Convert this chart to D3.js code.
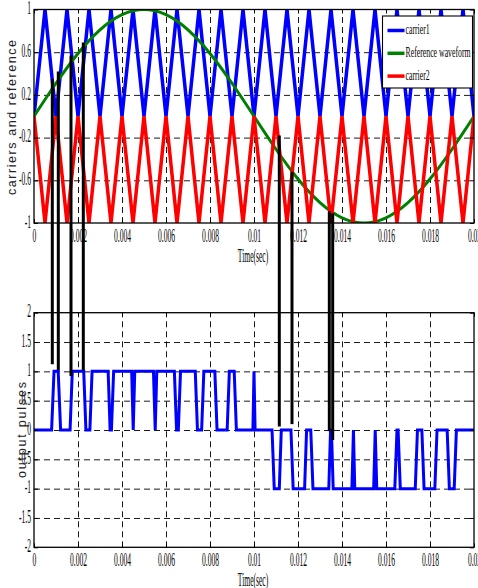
<!DOCTYPE html>
<html lang="en">
<head>
<meta charset="UTF-8">
<title>chart</title>
<script src="https://d3js.org/d3.v7.min.js"></script>
<style>body{margin:0;background:#fff}</style>
</head>
<body>
<svg width="478" height="588"></svg>
<script>
// all times in ms
const carrierT = [0,0.5,1,1.5,2,2.5,3,3.5,4,4.5,5,5.5,6,6.5,7,7.5,8,8.5,9,9.5,10,
                  10.5,11,11.5,12,12.5,13,13.5,14,14.5,15,15.5,16,16.5,17,17.5,18,18.5,19,19.5,20];
const carrier1 = [0,1,0,1,0,1,0,1,0,1,0,1,0,1,0,1,0,1,0,1,0,1,0,1,0,1,0,1,0,1,0,1,0,1,0,1,0,1,0,1,0];
const carrier2 = [0,-1,0,-1,0,-1,0,-1,0,-1,0,-1,0,-1,0,-1,0,-1,0,-1,0,-1,0,-1,0,-1,0,-1,0,-1,0,-1,0,-1,0,-1,0,-1,0,-1,0];
const refT = [0,1,2,3,4,5,6,7,8,9,10,11,12,13,14,15,16,17,18,19,20];
const refV = [0,0.309,0.588,0.809,0.951,1,0.951,0.809,0.588,0.309,0,
              -0.309,-0.588,-0.809,-0.951,-1,-0.951,-0.809,-0.588,-0.309,0];

const pulseT = [0, 0.80,0.91, 1.10,1.21, 1.64,1.74, 2.26,2.36, 2.54,2.64, 3.37,3.46, 3.52,3.62,
  4.44,4.51,4.58, 5.43,5.51,5.58, 6.38,6.48, 6.56,6.66, 7.33,7.43, 7.62,7.72, 8.22,8.32,
  8.78,8.88, 9.10,9.20, 9.95,10.0,10.05, 10.82,10.92, 11.15,11.24, 11.68,11.78, 12.30,12.39,
  12.58,12.68, 13.40,13.48, 13.52,13.60, 14.45,14.52,14.58, 15.44,15.51,15.58, 16.40,16.50,
  16.55,16.65, 17.33,17.43, 17.63,17.73, 18.22,18.32, 18.78,18.88, 19.10,19.20, 20];
const pulseV = [0, 0,1, 1,0, 0,1, 1,0, 0,1, 1,0, 0,1,
  1,0,1, 1,0,1, 1,0, 0,1, 1,0, 0,1, 1,0,
  0,1, 1,0, 0,1,0, 0,-1, -1,0, 0,-1, -1,0,
  0,-1, -1,0, 0,-1, -1,0,-1, -1,0,-1, -1,0,
  0,-1, -1,0, 0,-1, -1,0, 0,-1, -1,0, 0];

// black marker lines joining crossings to the pulses
const markT = [0.832,1.105,1.682,2.241,11.15,11.727,13.423,13.577];
const markTop = [0.35,0.42,0.57,0.69,-0.18,-0.52,-0.89,-0.91];
const markBot = [1.12,1.02,0.92,1.02,0.06,0.10,-0.02,-0.17];

const xTicks = [0,0.002,0.004,0.006,0.008,0.01,0.012,0.014,0.016,0.018,0.02];
const xTickLabels = ["0","0.002","0.004","0.006","0.008","0.01","0.012","0.014","0.016","0.018","0.02"];
const yTopTicks = [-1,-0.6,-0.2,0.2,0.6,1];
const yTopLabels = ["-1","-0.6","-0.2","0.2","0.6","1"];
const yBotTicks = [-2,-1.5,-1,-0.5,0,0.5,1,1.5,2];
const yBotLabels = ["-2","-1.5","-1","-0.5","0","0.5","1","1.5","2"];
const legendNames = ["carrier1","Reference waveform","carrier2"];
const legendColors = ["#0000ff","#008000","#ff0000"];

const svg = d3.select("svg");
const x = d3.scaleLinear().domain([0, 0.02]).range([34, 474]);
const yTop = d3.scaleLinear().domain([-1, 1]).range([223, 9.5]);
const yBot = d3.scaleLinear().domain([-2, 2]).range([547.3, 312.7]);
const SX = 0.42; // squeeze of the serif labels
const serif = "'Liberation Serif','Times New Roman',serif";

function axes(y, yTicks, yLabels, id) {
  const [yb, yt] = y.range();
  const h = yb - yt, w = x(0.02) - x(0);

  svg.append("clipPath").attr("id", id).append("rect")
    .attr("x", x(0)).attr("y", yt).attr("width", w).attr("height", h);

  // dashed grid
  svg.append("g").attr("transform", `translate(0,${yb})`)
    .call(d3.axisBottom(x).tickValues(xTicks.slice(1, -1)).tickSize(-h).tickFormat(""))
    .call(g => g.select(".domain").remove())
    .selectAll("line").attr("stroke", "#000").attr("stroke-width", 0.9).attr("stroke-dasharray", "6,4");
  svg.append("g").attr("transform", `translate(${x(0)},0)`)
    .call(d3.axisLeft(y).tickValues(yTicks.slice(1, -1)).tickSize(-w).tickFormat(""))
    .call(g => g.select(".domain").remove())
    .selectAll("line").attr("stroke", "#000").attr("stroke-width", 0.9).attr("stroke-dasharray", "6,4");

  // tick labels
  const gx = svg.append("g").attr("transform", `translate(0,${yb})`)
    .call(d3.axisBottom(x).tickValues(xTicks).tickFormat((d, i) => xTickLabels[i]).tickSize(0));
  gx.select(".domain").remove();
  gx.selectAll("text").attr("y", 14.5).attr("dy", null).attr("dominant-baseline", "middle")
    .attr("transform", `scale(${SX},1)`);
  gx.attr("font-family", serif).attr("font-size", 18);

  const gy = svg.append("g").attr("transform", `translate(${x(0)},0)`)
    .call(d3.axisLeft(y).tickValues(yTicks).tickFormat((d, i) => yLabels[i]).tickSize(0));
  gy.select(".domain").remove();
  gy.selectAll("text").attr("x", -3 / SX).attr("dy", null).attr("dominant-baseline", "middle")
    .attr("transform", `scale(${SX},1)`);
  gy.attr("font-family", serif).attr("font-size", 18);

  svg.append("text").attr("font-family", serif).attr("font-size", 18)
    .attr("text-anchor", "middle").attr("dominant-baseline", "middle")
    .attr("transform", `translate(${x(0.01) - 1},${yb + 35}) scale(${SX},1)`)
    .text("Time(sec)");
}

function frame(y) {
  const [yb, yt] = y.range();
  const h = yb - yt, w = x(0.02) - x(0);
  svg.append("g").call(d3.axisBottom(x).tickValues(xTicks).tickSize(-4).tickFormat(""))
    .attr("transform", `translate(0,${yb})`).call(g => g.select(".domain").remove());
  svg.append("g").call(d3.axisTop(x).tickValues(xTicks).tickSize(-4).tickFormat(""))
    .attr("transform", `translate(0,${yt})`).call(g => g.select(".domain").remove());
  svg.append("g").call(d3.axisLeft(y).tickValues(yTicks(y)).tickSize(-4).tickFormat(""))
    .attr("transform", `translate(${x(0)},0)`).call(g => g.select(".domain").remove());
  svg.append("g").call(d3.axisRight(y).tickValues(yTicks(y)).tickSize(-4).tickFormat(""))
    .attr("transform", `translate(${x(0.02)},0)`).call(g => g.select(".domain").remove());
  svg.append("rect").attr("x", x(0)).attr("y", yt).attr("width", w).attr("height", h)
    .attr("fill", "none").attr("stroke", "#000").attr("stroke-width", 1.3);
}
function yTicks(y) { return y === yTop ? yTopTicks : yBotTicks; }

axes(yTop, yTopTicks, yTopLabels, "clipTop");
axes(yBot, yBotTicks, yBotLabels, "clipBot");

// top: carriers and reference
const lineTop = d3.line().x(d => x(d[0] / 1000)).y(d => yTop(d[1]));
const gTop = svg.append("g").attr("clip-path", "url(#clipTop)").attr("fill", "none");
gTop.append("path").datum(d3.zip(carrierT, carrier1)).attr("d", lineTop)
  .attr("stroke", legendColors[0]).attr("stroke-width", 3.5);
gTop.append("path").datum(d3.zip(refT, refV)).attr("d", lineTop.curve(d3.curveNatural))
  .attr("stroke", legendColors[1]).attr("stroke-width", 3);
lineTop.curve(d3.curveLinear);
gTop.append("path").datum(d3.zip(carrierT, carrier2)).attr("d", lineTop)
  .attr("stroke", legendColors[2]).attr("stroke-width", 3.5);

// bottom: output pulses
const lineBot = d3.line().x(d => x(d[0] / 1000)).y(d => yBot(d[1]));
svg.append("g").attr("clip-path", "url(#clipBot)").append("path")
  .datum(d3.zip(pulseT, pulseV)).attr("d", lineBot)
  .attr("fill", "none").attr("stroke", "#0000ff").attr("stroke-width", 3).attr("stroke-linejoin", "miter");

frame(yTop);
frame(yBot);

// legend
const lg = svg.append("g").attr("transform", "translate(382.5,16)");
lg.append("rect").attr("width", 90).attr("height", 72).attr("fill", "#fff")
  .attr("stroke", "#000").attr("stroke-width", 1.1);
legendNames.forEach((name, i) => {
  const yy = 14.5 + i * 22.8;
  lg.append("line").attr("x1", 5).attr("x2", 22).attr("y1", yy).attr("y2", yy)
    .attr("stroke", legendColors[i]).attr("stroke-width", 3.5);
  lg.append("text").attr("font-family", serif).attr("font-size", 15)
    .attr("dominant-baseline", "middle")
    .attr("transform", `translate(23,${yy}) scale(0.52,1)`).text(name);
});

// y titles
svg.append("text").attr("font-family", "'Liberation Sans',Arial,sans-serif").attr("font-size", 12.5)
  .attr("fill", "#222").attr("text-anchor", "middle").attr("dominant-baseline", "middle")
  .attr("textLength", 155).attr("lengthAdjust", "spacing")
  .attr("transform", "translate(13,117.5) rotate(-90)").text("carriers and reference");
svg.append("text").attr("font-family", "'Liberation Sans',Arial,sans-serif").attr("font-size", 12.5)
  .attr("fill", "#222").attr("text-anchor", "middle").attr("dominant-baseline", "middle")
  .attr("textLength", 96).attr("lengthAdjust", "spacing")
  .attr("transform", "translate(23,430) rotate(-90)").text("output pulses");

// marker lines over both axes
svg.append("g").selectAll("line").data(markT).join("line")
  .attr("x1", d => x(d / 1000)).attr("x2", d => x(d / 1000))
  .attr("y1", (d, i) => yTop(markTop[i])).attr("y2", (d, i) => yBot(markBot[i]))
  .attr("stroke", "#000").attr("stroke-width", 3);
</script>
</body>
</html>
